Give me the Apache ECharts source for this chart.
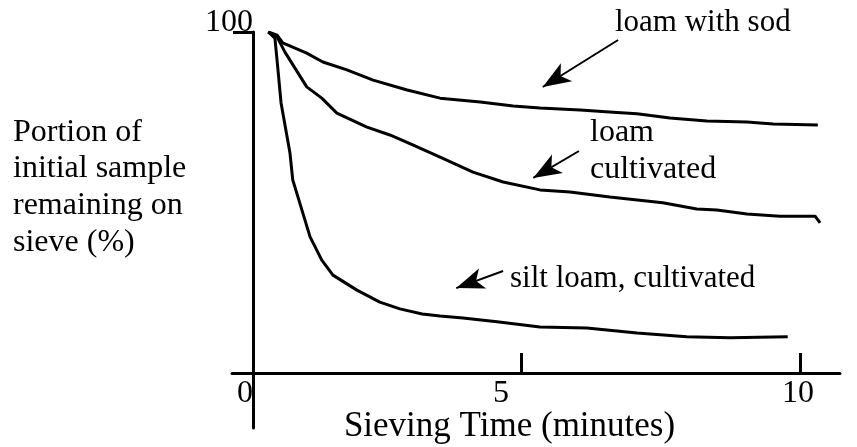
<!DOCTYPE html>
<html>
<head>
<meta charset="utf-8">
<script src="https://cdn.jsdelivr.net/npm/echarts@6/dist/echarts.min.js"></script>
<style>
  html, body { margin: 0; padding: 0; background: #fff; }
  #chart { width: 857px; height: 447px; }
</style>
</head>
<body>
<div id="chart"></div>
<script>
// ---------- data (time in minutes, portion remaining in %) ----------
const loamWithSod = [
  [0.47, 100], [0.63, 99.1], [0.73, 96.8], [1.16, 93.8], [1.45, 91.2], [1.88, 88.9],
  [2.35, 85.9], [2.96, 83.0], [3.55, 80.6], [4.27, 79.5], [4.86, 78.3], [5.34, 77.7],
  [6.06, 77.1], [6.65, 76.5], [7.08, 76.0], [7.67, 74.8], [8.33, 73.9], [9.05, 73.6],
  [9.52, 73.0], [10.32, 72.7]
];
const loamCultivated = [
  [0.47, 100], [0.63, 98.5], [0.77, 94.1], [1.16, 83.9], [1.43, 80.6], [1.70, 76.2],
  [2.24, 72.1], [2.65, 69.8], [3.06, 66.9], [3.55, 63.3], [4.14, 58.9], [4.68, 56.0],
  [5.34, 53.7], [5.88, 53.1], [6.59, 51.6], [7.54, 49.9], [8.15, 48.1], [8.51, 47.8],
  [9.05, 46.6], [9.64, 46.0], [10.27, 46.0], [10.36, 44.0]
];
const siltLoamCultivated = [
  [0.47, 100], [0.59, 98.2], [0.645, 88.9], [0.70, 79.2], [0.86, 64.5], [0.91, 56.6],
  [1.02, 50.7], [1.22, 39.9], [1.43, 33.1], [1.63, 28.7], [2.06, 24.3], [2.47, 20.8],
  [2.83, 18.8], [3.23, 17.3], [3.55, 16.7], [3.96, 16.1], [4.57, 15.0], [5.34, 13.5],
  [6.18, 13.2], [7.08, 11.7], [7.97, 10.6], [8.75, 10.3], [9.78, 10.6]
];
const xTickValues = [5, 10];
const xLabelValues = [0, 5, 10];
const yTickValues = [100];
const yLabelValues = [100];
const seriesNames = ['loam with sod', 'loam cultivated', 'silt loam, cultivated'];
const xAxisTitle = 'Sieving Time (minutes)';
const yAxisTitle = 'Portion of\ninitial sample\nremaining on\nsieve (%)';
const annotationTexts = ['loam with sod', 'loam\ncultivated', 'silt loam, cultivated'];
// arrows in data space: [from, to]
const arrowSod = [[6.74, 97.65], [5.39, 83.87]];
const arrowLoam = [[6.04, 65.1], [5.22, 57.2]];
const arrowSilt = [[4.68, 29.9], [3.84, 24.9]];

// ---------- styling / layout ----------
const FONT = "'Liberation Serif', 'Times New Roman', serif";
const BLACK = '#000';
const labelShift = { 0: [0, 0, 0, 6], 5: [0, 40, 0, 0], 10: [0, 4, 0, 0] };

const chart = echarts.init(document.getElementById('chart'), null, { renderer: 'canvas' });

function arrowLine(pair) {
  return {
    silent: true,
    animation: false,
    symbol: ['none', 'arrow'],
    symbolSize: [16, 28],
    label: { show: false },
    emphasis: { disabled: true },
    lineStyle: { color: BLACK, width: 2, type: 'solid' },
    data: [[{ coord: pair[0] }, { coord: pair[1] }]]
  };
}

function lineSeries(name, data, arrow) {
  return {
    name: name,
    type: 'line',
    data: data,
    showSymbol: false,
    symbol: 'none',
    smooth: false,
    lineStyle: { color: BLACK, width: 3 },
    emphasis: { disabled: true },
    markLine: arrowLine(arrow)
  };
}

const richStyles = {};
xLabelValues.forEach(function (v) {
  richStyles['r' + v] = {
    fontFamily: FONT, fontSize: 32, lineHeight: 32, color: BLACK,
    padding: labelShift[v]
  };
});

const titleStyle = function (fs, lh) {
  return { fontFamily: FONT, fontSize: fs, lineHeight: lh, fontWeight: 'normal', color: BLACK };
};

const option = {
  animation: false,
  backgroundColor: '#fff',
  title: [
    { text: yAxisTitle, left: 13, top: 114, padding: 0, textStyle: titleStyle(32, 36.7) },
    { text: annotationTexts[0], left: 615, top: 7, padding: 0, textStyle: titleStyle(31, 31) },
    { text: annotationTexts[1], left: 590, top: 114, padding: 0, textStyle: titleStyle(32, 37) },
    { text: annotationTexts[2], left: 510, top: 263, padding: 0, textStyle: titleStyle(31, 31) }
  ],
  grid: { left: 232, right: 17, top: 32, bottom: 19, containLabel: false, outerBoundsMode: 'none' },
  xAxis: [
    {
      type: 'value',
      min: -0.179,
      max: 10.717,
      splitLine: { show: false },
      axisLine: { show: true, onZero: true, lineStyle: { color: BLACK, width: 3 } },
      axisTick: { show: true, inside: true, length: 20, customValues: xTickValues,
                  lineStyle: { color: BLACK, width: 3 } },
      axisLabel: {
        show: true, margin: -50, customValues: xLabelValues,
        fontFamily: FONT, fontSize: 32, lineHeight: 32, color: BLACK,
        formatter: function (v) { return '{r' + v + '|' + v + '}'; },
        rich: richStyles
      },
      name: xAxisTitle,
      nameLocation: 'middle',
      nameGap: -19,
      nameMoveOverlap: false,
      nameTextStyle: { fontFamily: FONT, fontSize: 35, lineHeight: 35, color: BLACK,
                       padding: [0, 53, 0, 0] }
    },
    {
      // helper axis (pixel-like units) that positions the vertical axis line
      type: 'value',
      min: -21,
      max: 587,
      show: false
    }
  ],
  yAxis: {
    type: 'value',
    min: -16.13,
    max: 100,
    splitLine: { show: false },
    axisLine: { show: true, onZero: true, onZeroAxisIndex: 1, lineStyle: { color: BLACK, width: 3 } },
    axisTick: { show: true, inside: false, length: 20, customValues: yTickValues,
                lineStyle: { color: BLACK, width: 3 } },
    axisLabel: {
      show: true, margin: -21, customValues: yLabelValues,
      align: 'right', verticalAlign: 'bottom',
      fontFamily: FONT, fontSize: 32, lineHeight: 18, color: BLACK
    }
  },
  series: [
    lineSeries(seriesNames[0], loamWithSod, arrowSod),
    lineSeries(seriesNames[1], loamCultivated, arrowLoam),
    lineSeries(seriesNames[2], siltLoamCultivated, arrowSilt)
  ]
};

chart.setOption(option);
</script>
</body>
</html>
